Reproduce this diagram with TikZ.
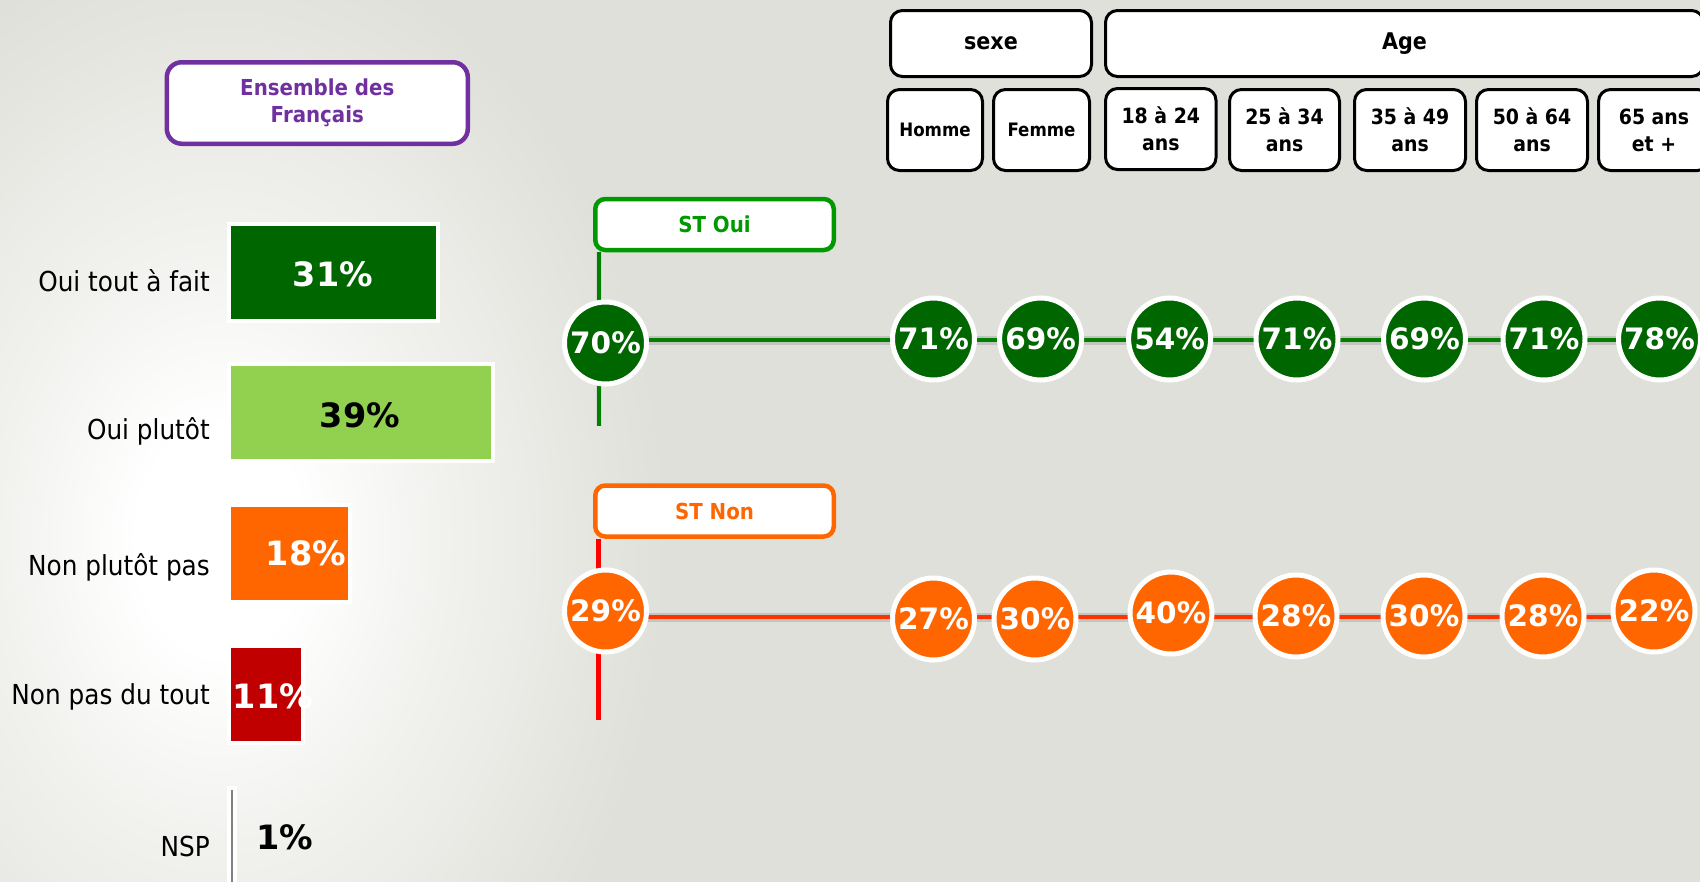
\documentclass[tikz,border=0pt]{standalone}
\usepackage{fontspec}
\setmainfont{DejaVu Sans}[FakeStretch=0.9]
\newfontfamily\numfont{DejaVu Sans}
\usetikzlibrary{calc}
\definecolor{bg}{RGB}{224,224,218}
\definecolor{dkgreen}{RGB}{0,102,0}
\definecolor{ltgreen}{RGB}{146,208,80}
\definecolor{orng}{RGB}{255,102,0}
\definecolor{dkred}{RGB}{192,0,0}
\definecolor{purp}{RGB}{112,48,160}
\definecolor{stgreen}{RGB}{0,153,0}
\definecolor{lgreen}{RGB}{0,128,0}
\definecolor{lred}{RGB}{255,51,0}
\definecolor{vred}{RGB}{255,0,0}
\pgfdeclarelayer{back}
\pgfsetlayers{back,main}
\pgfdeclareradialshading{glow}{\pgfpoint{0bp}{0bp}}{color(0bp)=(white); color(1.3bp)=(white); color(3.5bp)=(bg!45!white); color(7bp)=(bg); color(50bp)=(bg)}
\newcommand{\fsz}[2]{\fontsize{#1}{#2}\selectfont}
\tikzset{
  lab/.style={anchor=base east, font=\fsz{27.5}{30}, inner sep=0},
  bar/.style={rectangle, draw=white, line width=4, inner sep=0, minimum height=97},
  pct/.style={anchor=base, font=\numfont\bfseries\fsz{33.5}{36}, inner sep=0},
  hdr/.style={rectangle, draw=black, line width=3, rounded corners=12, fill=white, inner sep=0, font=\bfseries\fsz{21}{27}, align=center, minimum height=81},
  dot/.style={circle, draw=white, line width=5, minimum size=82, inner sep=0, text=white, font=\numfont\bfseries\fsz{29.5}{30}},
  gdot/.style={dot, fill=dkgreen},
  odot/.style={dot, fill=orng},
  stbox/.style={rectangle, line width=4.5, rounded corners=10, fill=white, inner sep=0, minimum width=238.5, minimum height=51, font=\bfseries\fsz{22}{26}},
  gline/.style={draw=lgreen, line width=4},
  rline/.style={draw=lred, line width=4},
  shad/.style={draw=black, opacity=0.12, line width=9},
  shadb/.style={draw=black, opacity=0.12, line width=4},
}
\begin{document}
\begin{tikzpicture}[x=1pt, y=-1pt]
\useasboundingbox (0,0) rectangle (1700,881);
\begin{pgfonlayer}{back}
  \fill[bg] (0,0) rectangle (1700,881);
  \begin{scope}
    \clip (0,0) rectangle (1700,881);
    \shade[shading=glow] (220,540) ellipse [x radius=1600, y radius=2180];
  \end{scope}
\end{pgfonlayer}

% left panel
\node[rectangle, draw=purp, line width=4.5, rounded corners=15, fill=white, minimum width=301, minimum height=81.5, inner sep=0, align=center, text=purp, font=\bfseries\fsz{22}{27}] (ens) at (317.3,103) {Ensemble des\\Français};

\node[bar, fill=dkgreen, minimum width=209] (b31) at (333.5,272) {};
\node[bar, fill=ltgreen, minimum width=264] (b39) at (361,412.5) {};
\node[bar, fill=orng, minimum width=121] (b18) at (289.5,553.5) {};
\node[bar, fill=dkred, minimum width=74] (b11) at (266,694.5) {};
\node[rectangle, fill=white, inner sep=0, minimum width=9.5, minimum height=100, anchor=north west] (bnsp) at (227,786) {};
\draw[draw=gray, line width=2] ($(bnsp.north)+(0,4)$) -- (bnsp.south);

\node[pct, text=white] (p31) at (333,286) {31\%};
\node[pct, text=black] (p39) at (360,427) {39\%};
\node[pct, text=white] (p18) at (306,565) {18\%};
\node[pct, text=white] (p11) at (273,708) {11\%};
\node[pct, text=black] (p1) at (285,849) {1\%};

\node[lab] (l1) at (210,291.5) {Oui tout à fait};
\node[lab] (l2) at (210,439) {Oui plutôt};
\node[lab] (l3) at (210,575) {Non plutôt pas};
\node[lab] (l4) at (210,704) {Non pas du tout};
\node[lab] (l5) at (210,856) {NSP};

% headers
\node[hdr, font=\bfseries\fsz{23}{27}, minimum width=201, minimum height=66] (sexe) at (991,43.5) {sexe};
\node[hdr, font=\bfseries\fsz{23}{27}, minimum width=598, minimum height=66] (age) at (1404.5,43.5) {Age};
\node[hdr, font=\bfseries\fsz{18.5}{24}, minimum width=95] (homme) at (935,130) {Homme};
\node[hdr, font=\bfseries\fsz{18.5}{24}, minimum width=96] (femme) at (1041.5,130) {Femme};
\node[hdr, minimum width=110.5] (a1) at (1160.8,129) {18 à 24\\ans};
\node[hdr, minimum width=110] (a2) at (1284.5,130) {25 à 34\\ans};
\node[hdr, minimum width=111] (a3) at (1410,130) {35 à 49\\ans};
\node[hdr, minimum width=111] (a4) at (1532,130) {50 à 64\\ans};
\node[hdr, minimum width=111] (a5) at (1654,130) {65 ans\\et +};

% ST boxes
\node[stbox, draw=stgreen, text=stgreen] (stoui) at (714.5,224.5) {ST Oui};
\node[stbox, draw=orng, text=orng] (stnon) at (714.5,511) {ST Non};

% circles
\node[gdot] (g0) at (605.5,343) {70\%};
\node[gdot] (g1) at (933.5,339) {71\%};
\node[gdot] (g2) at (1040.6,339) {69\%};
\node[gdot] (g3) at (1169.6,339) {54\%};
\node[gdot] (g4) at (1297,339) {71\%};
\node[gdot] (g5) at (1424.5,339) {69\%};
\node[gdot] (g6) at (1544,339) {71\%};
\node[gdot] (g7) at (1659.5,339) {78\%};

\node[odot] (o0) at (605.5,611) {29\%};
\node[odot] (o1) at (933.5,619) {27\%};
\node[odot] (o2) at (1035,619) {30\%};
\node[odot] (o3) at (1171,613) {40\%};
\node[odot] (o4) at (1296,616) {28\%};
\node[odot] (o5) at (1424,616) {30\%};
\node[odot] (o6) at (1543,616) {28\%};
\node[odot] (o7) at (1654,611) {22\%};

\coordinate (gtop) at ($(stoui.south west)+(5.5,0)$);
\coordinate (gbot) at (598.5,426);
\coordinate (rtop) at ($(stnon.south west)+(5.5,0)$);
\coordinate (rbot) at (598.5,720);
\coordinate (gy) at (0,340);
\coordinate (ry) at (0,617);

\begin{pgfonlayer}{back}
  \draw[shadb, xshift=4pt, yshift=-3pt] (gtop) -- (gbot);
  \draw[shadb, xshift=6pt, yshift=-4pt, opacity=0.06, line width=6] (gtop) -- (gbot);
  \draw[gline] (gtop) -- (gbot);
  \draw[draw=vred, line width=5] (rtop) -- (rbot);
  \draw[shad, yshift=-7pt] (g0 |- gy) -- (g7 |- gy);
  \draw[shad, yshift=-6pt, line width=4] (g0 |- gy) -- (g7 |- gy);
  \draw[gline] (g0 |- gy) -- (g7 |- gy);
  \draw[shad, yshift=-7pt] (o0 |- ry) -- (o7 |- ry);
  \draw[shad, yshift=-6pt, line width=4] (o0 |- ry) -- (o7 |- ry);
  \draw[rline] (o0 |- ry) -- (o7 |- ry);
\end{pgfonlayer}
\end{tikzpicture}
\end{document}
